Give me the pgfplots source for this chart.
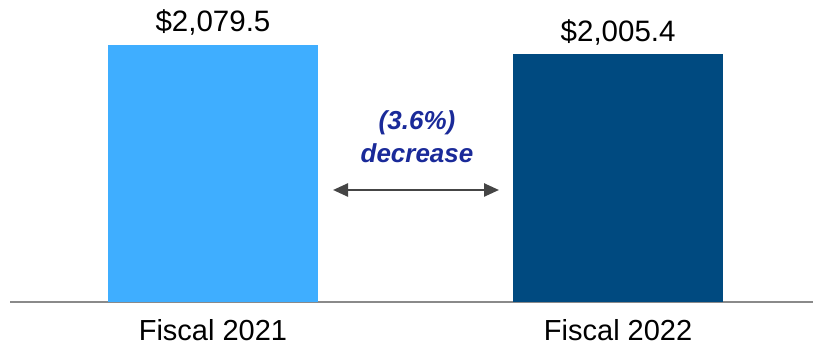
\documentclass[border=0pt]{standalone}
\usepackage{pgfplots}
\pgfplotsset{compat=1.18}
\usepackage{fontspec}
\setmainfont{Liberation Sans}
\usetikzlibrary{arrows.meta}
\definecolor{lightbar}{HTML}{3FAEFF}
\definecolor{darkbar}{HTML}{004A80}
\definecolor{annot}{HTML}{1A2A99}
\definecolor{arrowgray}{HTML}{454545}
\definecolor{basegray}{HTML}{8A8A8A}
\begin{document}
\begin{tikzpicture}
\useasboundingbox (0,0) rectangle (813bp,346bp);
\begin{axis}[
  at={(10bp,44bp)}, anchor=south west,
  scale only axis, width=803bp, height=302bp,
  xmin=-0.501, xmax=1.481, ymin=0, ymax=2443.6,
  axis x line=bottom, axis y line=none,
  x axis line style={basegray, line width=1.6bp, -},
  xtick={0,1}, xticklabels={Fiscal 2021, Fiscal 2022},
  major tick length=0pt,
  xticklabel style={anchor=base, yshift=-38bp, font=\fontsize{29bp}{34bp}\selectfont, text=black},
  ytick=\empty,
  ybar, bar width=210bp, bar shift=0pt,
  point meta=explicit symbolic,
  nodes near coords,
  nodes near coords style={anchor=base, yshift=13bp, font=\fontsize{29.5bp}{35bp}\selectfont, text=black},
  clip=false,
]
\addplot[fill=lightbar, draw=none] coordinates {(0,2079.5) [\$2,079.5]};
\addplot[fill=darkbar, draw=none] coordinates {(1,2005.4) [\$2,005.4]};
\end{axis}
\draw[arrowgray, line width=2.5bp, {Triangle[length=15bp,width=13bp]}-{Triangle[length=15bp,width=13bp]}] (333bp,156bp) -- (499bp,156bp);
\node[anchor=base, text=annot, font=\fontsize{26bp}{31bp}\selectfont\bfseries\itshape] at (417bp,216bp) {(3.6\%)};
\node[anchor=base, text=annot, font=\fontsize{26bp}{31bp}\selectfont\bfseries\itshape] at (417bp,183bp) {decrease};
\end{tikzpicture}
\end{document}
